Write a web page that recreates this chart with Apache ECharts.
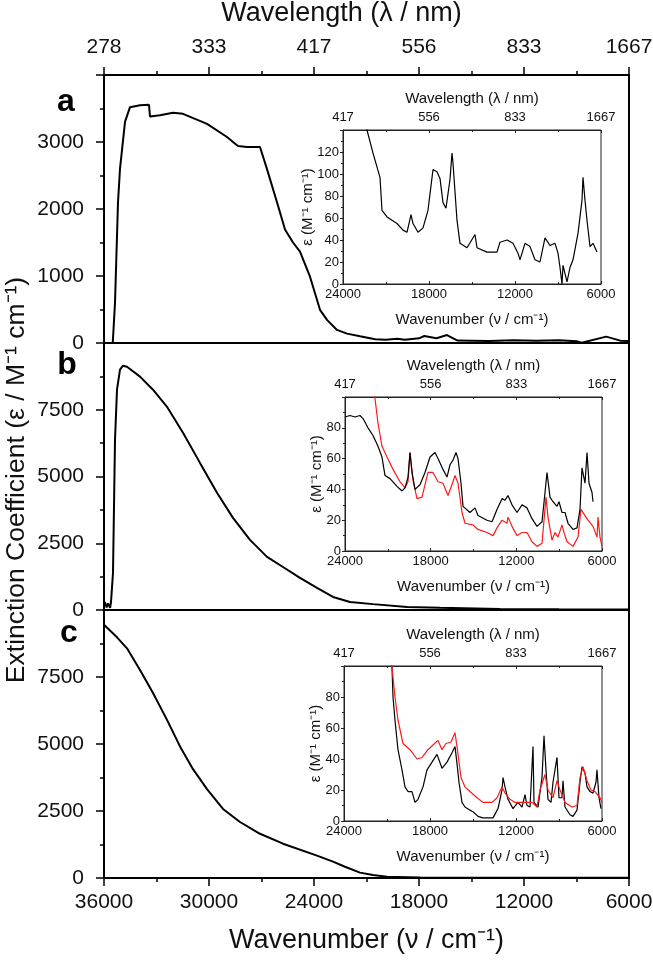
<!DOCTYPE html>
<html>
<head>
<meta charset="utf-8">
<script src="https://cdn.jsdelivr.net/npm/echarts@6/dist/echarts.min.js"></script>
<style>html,body{margin:0;padding:0;background:#fff}#c{width:653px;height:961px}</style>
</head>
<body>
<div id="c"></div>
<script>
// ---- tick labels ----
const mainTicksWn = [36000, 30000, 24000, 18000, 12000, 6000];
const mainTicksWl = ['278', '333', '417', '556', '833', '1667'];
const insetTicksWn = [24000, 18000, 12000, 6000];
const insetTicksWl = ['417', '556', '833', '1667'];

// ---- main panel a ----
const aWn = [35500, 35371, 35200, 35086, 34800, 34514, 33943, 33429, 33371, 32800, 32057, 31486, 30114, 28971, 28629, 28343, 27829, 27086, 26686, 26114, 25657, 25200, 24800, 24229, 23657, 23257, 22686, 22114, 21371, 20500, 19900, 19250, 18800, 18000, 17700, 17000, 16400, 15800, 15000, 14000, 12600, 11300, 10000, 9000, 8700, 7300, 6500, 6000];
const aVal = [0, 600, 2100, 2600, 3300, 3520, 3550, 3555, 3380, 3400, 3435, 3420, 3270, 3075, 3000, 2940, 2925, 2925, 2595, 2100, 1695, 1500, 1365, 990, 495, 345, 195, 140, 100, 55, 50, 63, 47, 70, 104, 72, 119, 37, 35, 30, 40, 35, 40, 25, 5, 95, 35, 30];

// ---- main panel b ----
const bWn = [35950, 35850, 35771, 35650, 35600, 35486, 35371, 35257, 35086, 34914, 34686, 33943, 33200, 32400, 31486, 30514, 29543, 28629, 27657, 26686, 25771, 24800, 23829, 22914, 21943, 20629, 18686, 16800, 13371, 10000, 6000];
const bVal = [300, 100, 250, 80, 300, 1390, 6375, 8250, 9000, 9150, 9110, 8740, 8250, 7610, 6640, 5510, 4390, 3450, 2625, 1990, 1610, 1200, 825, 490, 300, 220, 110, 80, 40, 30, 20];

// ---- main panel c ----
const cWn = [36000, 35257, 34686, 33943, 33200, 32400, 31657, 30914, 30114, 29200, 28229, 27086, 25771, 23829, 22914, 22229, 21371, 20629, 19829, 17943, 12000, 6000];
const cVal = [9450, 8980, 8570, 7760, 6900, 5900, 4910, 4060, 3315, 2575, 2090, 1650, 1280, 835, 610, 420, 200, 110, 50, 15, 10, 10];

// ---- inset a ----
const iaWn = [22600, 22326, 21907, 21419, 21279, 20930, 20233, 19814, 19535, 19256,
  19116, 18767, 18418, 18070, 17721, 17442, 17233, 17023, 16814, 16535,
  16395, 16326, 16047, 15837, 15349, 14791, 14651, 13953, 13256, 13047,
  12558, 12140, 11791, 11651, 11302, 10953, 10605, 10256, 9907, 9558,
  9209, 9000, 8860, 8721, 8651, 8372, 8163, 7953, 7605, 7326,
  7256, 7116, 6977, 6767, 6558, 6279];
const iaVal = [165, 140, 119, 97, 67, 61, 55, 49, 47, 63,
  55, 47, 51, 67, 104, 102, 96, 74, 69, 95,
  119, 110, 58, 37, 33, 45, 33, 29, 29, 38,
  40, 37, 28, 22, 37, 34, 22, 20, 42, 35,
  37, 28, 15, 0, 17, 2, 15, 22, 46, 76,
  97, 76, 58, 34, 37, 29];

// ---- inset b ----
const ibWnBlack = [24000, 23650, 23300, 22950, 22739, 22389, 22039, 21689, 21409, 21198,
  20848, 20358, 20008, 19798, 19587, 19447, 19307, 19097, 18747, 18397,
  18047, 17696, 17486, 17136, 16856, 16646, 16436, 16226, 16085, 15875,
  15735, 15245, 14895, 14685, 14054, 13704, 13354, 13004, 12794, 12583,
  12303, 11953, 11603, 11253, 10903, 10552, 10202, 9992, 9852, 9642,
  9432, 9152, 9012, 8801, 8591, 8381, 8031, 7751, 7541, 7401,
  7190, 7050, 6910, 6700, 6630];
const ibValBlack = [87, 88, 87, 88, 86, 80, 75, 68, 61, 49,
  47, 42, 39, 41, 48, 64, 51, 40, 43, 51,
  61, 64, 60, 53, 48, 56, 59, 64, 60, 44,
  29, 25, 28, 23, 20, 19, 27, 34, 33, 36,
  30, 25, 30, 28, 21, 16, 19, 38, 51, 35,
  32, 29, 32, 25, 25, 18, 14, 15, 27, 54,
  44, 64, 44, 38, 32];
const ibWnRed = [22100, 21899, 21689, 21409, 21058, 20638, 20148, 19798, 19587, 19447,
  19237, 18957, 18607, 18187, 17836, 17486, 17136, 16786, 16436, 16296,
  16085, 15805, 15595, 15035, 14685, 14054, 13634, 13354, 13004, 12654,
  12583, 12303, 11953, 11603, 11253, 10903, 10552, 10202, 9922, 9782,
  9502, 9292, 9082, 8801, 8661, 8451, 8031, 7681, 7471, 7190,
  6980, 6630, 6350, 6280, 6140, 6000];
const ibValRed = [115, 99, 83, 68, 61, 53, 45, 41, 45, 64,
  46, 34, 35, 51, 51, 45, 44, 36, 45, 49,
  44, 25, 18, 17, 14, 12, 10, 15, 20, 18,
  22, 16, 10, 12, 12, 6, 3, 5, 35, 22,
  7, 12, 9, 17, 12, 6, 3, 9, 27, 23,
  20, 16, 9, 22, 9, 3];

// ---- inset c ----
const icWnBlack = [20900, 20651, 20581, 20442, 20233, 19953, 19744, 19535, 19256, 19046,
  18837, 18488, 18209, 17860, 17512, 17163, 16814, 16465, 16256, 16116,
  15977, 15767, 15558, 15209, 15000, 14651, 14302, 13604, 13256, 12977,
  12907, 12767, 12558, 12209, 11860, 11581, 11372, 11233, 11023, 10814,
  10744, 10465, 10186, 10046, 9907, 9767, 9558, 9419, 9140, 9000,
  8791, 8721, 8581, 8233, 8023, 7744, 7535, 7395, 7186, 7047,
  6837, 6628, 6419, 6349, 6209, 6070];
const icValBlack = [110, 99, 80, 65, 46, 33, 22, 19, 19, 12,
  14, 22, 33, 38, 43, 34, 38, 44, 48, 37,
  25, 12, 9, 7, 6, 3, 2, 2, 8, 20,
  28, 22, 14, 8, 12, 9, 17, 10, 9, 48,
  12, 9, 28, 55, 33, 14, 12, 25, 41, 15,
  15, 26, 9, 4, 3, 7, 25, 35, 31, 22,
  19, 18, 25, 33, 15, 8];
const icWnRed = [20900, 20651, 20442, 20233, 19884, 19395, 18907, 18558, 18139, 17791,
  17442, 17163, 16884, 16535, 16256, 16116, 15837, 15558, 15209, 14721,
  14302, 13674, 13326, 12977, 12767, 12419, 12070, 11721, 11233, 10884,
  10535, 10326, 9977, 9767, 9419, 9140, 8930, 8581, 8093, 7744,
  7535, 7326, 7047, 6767, 6488, 6140, 6000];
const icValRed = [110, 99, 80, 65, 50, 46, 40, 41, 46, 49,
  52, 46, 50, 51, 57, 48, 28, 22, 19, 15,
  12, 12, 15, 22, 18, 14, 12, 12, 12, 12,
  9, 20, 30, 20, 15, 26, 20, 12, 9, 10,
  28, 35, 26, 20, 19, 15, 12];

// ---- build ----
const F = '"Liberation Sans", Arial, sans-serif';
const zip = (xs, ys) => xs.map((x, i) => [x, ys[i]]);
const plain = (v) => String(v);
const wlFmt = (ticks, labels) => (v) => { const i = ticks.indexOf(v); return i >= 0 ? labels[i] : ''; };

const mainGrids = [
  {left: 104, width: 525, top: 75, height: 268},
  {left: 104, width: 525, top: 343, height: 267},
  {left: 104, width: 525, top: 610, height: 268}
];
const insetGrids = [
  {left: 343, width: 258, top: 130, height: 154},
  {left: 345, width: 257, top: 397, height: 154},
  {left: 344, width: 258, top: 666, height: 155}
];
const grid = mainGrids.map(g => Object.assign({show: true, borderColor: '#000', borderWidth: 2, backgroundColor: 'transparent', outerBoundsMode: 'none', containLabel: false}, g))
  .concat(insetGrids.map(g => Object.assign({show: true, borderColor: '#222', borderWidth: 1, backgroundColor: '#fff', outerBoundsMode: 'none', containLabel: false}, g)));

const blk = '#000';
function mainX(gi, opts) {
  return Object.assign({
    type: 'value', gridIndex: gi, min: 6000, max: 36000, interval: 6000, inverse: true,
    splitLine: {show: false},
    axisLine: {show: true, onZero: false, lineStyle: {color: blk, width: 2}},
    axisTick: {show: false},
    axisLabel: {show: false},
    minorTick: {show: false},
    nameMoveOverlap: false
  }, opts);
}
function insetX(gi, opts) {
  return Object.assign({
    type: 'value', gridIndex: gi, min: 6000, max: 24000, interval: 6000, inverse: true,
    splitLine: {show: false},
    axisLine: {show: true, onZero: false, lineStyle: {color: '#222', width: 1}},
    axisTick: {show: true, inside: true, length: 3, lineStyle: {color: '#222', width: 1}},
    minorTick: {show: true, splitNumber: 2, length: 2, lineStyle: {color: '#222', width: 1}},
    axisLabel: {show: true, fontFamily: F, fontSize: 13, color: '#111', margin: 4, formatter: plain},
    nameLocation: 'middle', nameMoveOverlap: false,
    nameTextStyle: {fontFamily: F, fontSize: 15, color: '#111'}
  }, opts);
}
const insetTopLabel = {show: true, fontFamily: F, fontSize: 13, color: '#111', margin: 6, formatter: wlFmt(insetTicksWn, insetTicksWl)};

const xAxis = [
  mainX(0, {position: 'bottom'}),
  mainX(0, {
    position: 'top',
    axisTick: {show: true, length: 8, lineStyle: {color: blk, width: 1.5}},
    minorTick: {show: true, splitNumber: 2, length: 4, lineStyle: {color: blk, width: 1.5}},
    axisLabel: {show: true, fontFamily: F, fontSize: 21, color: '#111', margin: 17, formatter: wlFmt(mainTicksWn, mainTicksWl)},
    name: 'Wavelength (λ / nm)', nameLocation: 'middle', nameGap: 48,
    nameTextStyle: {fontFamily: F, fontSize: 27, color: '#111', padding: [0, 50, 0, 0]}
  }),
  mainX(1, {position: 'bottom'}),
  mainX(2, {
    position: 'bottom',
    axisTick: {show: true, length: 8, lineStyle: {color: blk, width: 1.5}},
    minorTick: {show: true, splitNumber: 2, length: 4, lineStyle: {color: blk, width: 1.5}},
    axisLabel: {show: true, fontFamily: F, fontSize: 21, color: '#111', margin: 14, formatter: plain},
    name: 'Wavenumber (ν / cm⁻¹)', nameLocation: 'middle', nameGap: 49,
    nameTextStyle: {fontFamily: F, fontSize: 27, color: '#111'}
  }),
  insetX(3, {position: 'bottom', name: 'Wavenumber (ν / cm⁻¹)', nameGap: 28}),
  insetX(3, {position: 'top', name: 'Wavelength (λ / nm)', nameGap: 24, axisLabel: insetTopLabel}),
  insetX(4, {position: 'bottom', name: 'Wavenumber (ν / cm⁻¹)', nameGap: 28}),
  insetX(4, {position: 'top', name: 'Wavelength (λ / nm)', nameGap: 24, axisLabel: insetTopLabel}),
  insetX(5, {position: 'bottom', name: 'Wavenumber (ν / cm⁻¹)', nameGap: 28}),
  insetX(5, {position: 'top', name: 'Wavelength (λ / nm)', nameGap: 24, axisLabel: insetTopLabel})
];

function mainY(gi, max, interval) {
  return {
    type: 'value', gridIndex: gi, min: 0, max: max, interval: interval,
    splitLine: {show: false},
    axisLine: {show: true, onZero: false, lineStyle: {color: blk, width: 2}},
    axisTick: {show: true, length: 8, lineStyle: {color: blk, width: 1.5}},
    minorTick: {show: true, splitNumber: 2, length: 4, lineStyle: {color: blk, width: 1.5}},
    axisLabel: {show: true, fontFamily: F, fontSize: 21, color: '#111', margin: 20, showMaxLabel: false, formatter: plain}
  };
}
function insetY(gi, max, gap) {
  return {
    type: 'value', gridIndex: gi, min: 0, max: max, interval: 20,
    splitLine: {show: false},
    axisLine: {show: true, onZero: false, lineStyle: {color: '#222', width: 1}},
    axisTick: {show: true, length: 3, lineStyle: {color: '#222', width: 1}},
    minorTick: {show: true, splitNumber: 2, length: 2, lineStyle: {color: '#222', width: 1}},
    axisLabel: {show: true, fontFamily: F, fontSize: 13, color: '#111', margin: 4, showMaxLabel: false, formatter: plain},
    name: 'ε (M⁻¹ cm⁻¹)', nameLocation: 'middle', nameGap: gap, nameRotate: 90, nameMoveOverlap: false,
    nameTextStyle: {fontFamily: F, fontSize: 15, color: '#111'}
  };
}
const yAxis = [
  mainY(0, 4000, 1000),
  mainY(1, 10000, 2500),
  mainY(2, 10000, 2500),
  insetY(3, 140, 28),
  insetY(4, 100, 21),
  insetY(5, 100, 21)
];

function line(xi, yi, data, color, width) {
  return {type: 'line', xAxisIndex: xi, yAxisIndex: yi, data: data, showSymbol: false, symbol: 'none',
    lineStyle: {color: color, width: width}, clip: true, animation: false, z: 3};
}
const series = [
  line(0, 0, zip(aWn, aVal), '#000', 2),
  line(2, 1, zip(bWn, bVal), '#000', 2),
  line(3, 2, zip(cWn, cVal), '#000', 2),
  line(4, 3, zip(iaWn, iaVal), '#000', 1.2),
  line(6, 4, zip(ibWnRed, ibValRed), '#ff1a1a', 1.2),
  line(6, 4, zip(ibWnBlack, ibValBlack), '#000', 1.2),
  line(8, 5, zip(icWnBlack, icValBlack), '#000', 1.2),
  line(8, 5, zip(icWnRed, icValRed), '#ff1a1a', 1.2)
];

const letter = (t, x, y) => ({type: 'text', x: x, y: y, style: {text: t, fontFamily: F, fontSize: 32, fontWeight: 'bold', fill: '#000', align: 'center', verticalAlign: 'middle'}});
const graphic = [
  letter('a', 66, 102),
  letter('b', 67, 365),
  letter('c', 69, 633),
  {type: 'text', x: 17, y: 480, rotation: Math.PI / 2,
    style: {text: 'Extinction Coefficient (ε / M⁻¹ cm⁻¹)', fontFamily: F, fontSize: 26.5, fill: '#111', align: 'center', verticalAlign: 'middle'}}
];

const chart = echarts.init(document.getElementById('c'), null, {renderer: 'canvas'});
chart.setOption({animation: false, backgroundColor: '#fff', grid: grid, xAxis: xAxis, yAxis: yAxis, series: series, graphic: graphic});
</script>
</body>
</html>
